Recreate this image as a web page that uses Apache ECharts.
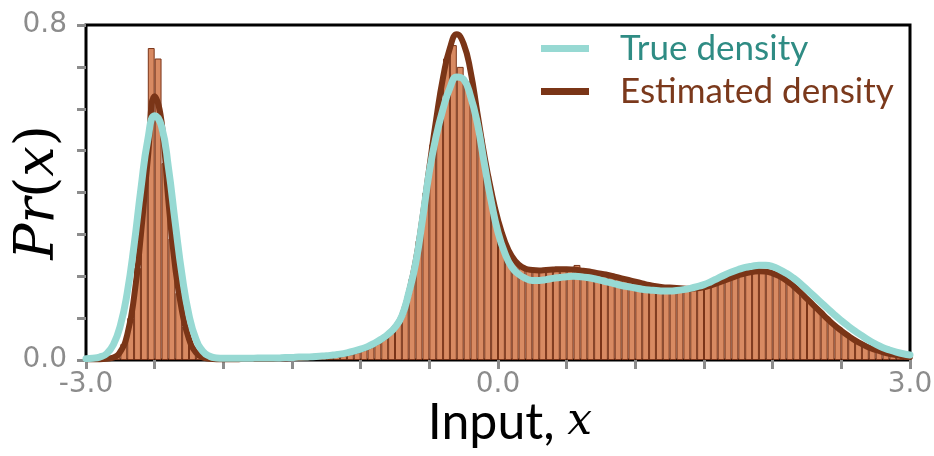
<!DOCTYPE html>
<html>
<head>
<meta charset="utf-8">
<script src="https://cdn.jsdelivr.net/npm/echarts@6/dist/echarts.min.js"></script>
<style>
  html, body { margin: 0; padding: 0; background: #ffffff; }
  #chart { width: 934px; height: 456px; }
</style>
</head>
<body>
<div id="chart"></div>
<script>
// ---- data ----
// sample positions of the two density curves
const curveX = [
  -3.00,-2.95,-2.90,-2.85,-2.80,-2.75,-2.70,-2.65,-2.60,-2.55,
  -2.50,-2.45,-2.40,-2.35,-2.30,-2.25,-2.20,-2.15,-2.10,-2.05,
  -2.00,-1.95,-1.90,-1.85,-1.80,-1.75,-1.70,-1.65,-1.60,-1.55,
  -1.50,-1.45,-1.40,-1.35,-1.30,-1.25,-1.20,-1.15,-1.10,-1.05,
  -1.00,-0.95,-0.90,-0.85,-0.80,-0.75,-0.70,-0.65,-0.60,-0.55,
  -0.50,-0.45,-0.40,-0.35,-0.30,-0.25,-0.20,-0.15,-0.10,-0.05,
   0.00, 0.05, 0.10, 0.15, 0.20, 0.25, 0.30, 0.35, 0.40, 0.45,
   0.50, 0.55, 0.60, 0.65, 0.70, 0.75, 0.80, 0.85, 0.90, 0.95,
   1.00, 1.05, 1.10, 1.15, 1.20, 1.25, 1.30, 1.35, 1.40, 1.45,
   1.50, 1.55, 1.60, 1.65, 1.70, 1.75, 1.80, 1.85, 1.90, 1.95,
   2.00, 2.05, 2.10, 2.15, 2.20, 2.25, 2.30, 2.35, 2.40, 2.45,
   2.50, 2.55, 2.60, 2.65, 2.70, 2.75, 2.80, 2.85, 2.90, 2.95,
   3.00
];
const trueDensity = [
  0.003,0.004,0.007,0.015,0.037,0.082,0.160,0.274,0.409,0.526,
  0.583,0.558,0.460,0.327,0.201,0.107,0.050,0.021,0.009,0.005,
  0.004,0.004,0.004,0.004,0.004,0.005,0.005,0.005,0.005,0.006,
  0.006,0.007,0.007,0.008,0.009,0.010,0.012,0.014,0.017,0.021,
  0.026,0.032,0.040,0.050,0.062,0.078,0.105,0.160,0.230,0.335,
  0.450,0.535,0.600,0.650,0.676,0.670,0.630,0.565,0.470,0.380,
  0.305,0.255,0.222,0.205,0.195,0.190,0.190,0.192,0.195,0.197,
  0.199,0.200,0.199,0.197,0.194,0.190,0.186,0.182,0.178,0.175,
  0.172,0.169,0.167,0.166,0.165,0.165,0.166,0.168,0.171,0.175,
  0.180,0.187,0.195,0.203,0.210,0.216,0.221,0.224,0.226,0.226,
  0.223,0.216,0.207,0.196,0.183,0.168,0.153,0.138,0.123,0.108,
  0.094,0.081,0.069,0.058,0.047,0.038,0.030,0.024,0.019,0.015,
  0.012
];
const estimatedDensity = [
  0.002,0.002,0.002,0.003,0.006,0.020,0.060,0.150,0.300,0.480,
  0.630,0.570,0.380,0.220,0.115,0.050,0.018,0.006,0.003,0.002,
  0.002,0.002,0.002,0.003,0.003,0.003,0.003,0.003,0.004,0.004,
  0.005,0.005,0.006,0.007,0.008,0.009,0.011,0.013,0.016,0.020,
  0.025,0.031,0.039,0.049,0.061,0.078,0.105,0.160,0.235,0.340,
  0.460,0.575,0.675,0.745,0.778,0.755,0.690,0.590,0.490,0.405,
  0.335,0.283,0.248,0.228,0.218,0.215,0.214,0.215,0.216,0.217,
  0.217,0.216,0.214,0.212,0.209,0.206,0.203,0.199,0.195,0.191,
  0.187,0.183,0.179,0.176,0.174,0.173,0.172,0.171,0.170,0.171,
  0.174,0.178,0.184,0.190,0.196,0.202,0.207,0.210,0.212,0.211,
  0.207,0.200,0.190,0.177,0.162,0.146,0.130,0.114,0.098,0.083,
  0.070,0.058,0.047,0.038,0.030,0.024,0.019,0.015,0.012,0.009,
  0.007
];
// histogram: 120 bins of width 0.05 from -3.0 to 3.0
const histHeights = [
  0.000,0.000,0.001,0.004,0.012,0.038,0.100,0.220,0.440,0.745,
  0.720,0.470,0.290,0.160,0.080,0.032,0.011,0.004,0.002,0.001,
  0.002,0.002,0.003,0.002,0.003,0.003,0.003,0.004,0.003,0.004,
  0.005,0.005,0.006,0.007,0.008,0.010,0.012,0.014,0.018,0.022,
  0.028,0.035,0.044,0.055,0.069,0.090,0.130,0.195,0.285,0.400,
  0.515,0.620,0.720,0.752,0.700,0.665,0.620,0.530,0.440,0.365,
  0.305,0.262,0.236,0.222,0.216,0.213,0.214,0.215,0.216,0.216,
  0.215,0.227,0.212,0.210,0.207,0.204,0.200,0.196,0.192,0.188,
  0.184,0.180,0.177,0.174,0.172,0.171,0.170,0.169,0.169,0.171,
  0.175,0.180,0.186,0.192,0.198,0.203,0.207,0.210,0.211,0.208,
  0.203,0.194,0.183,0.169,0.153,0.137,0.121,0.105,0.090,0.076,
  0.063,0.052,0.042,0.033,0.026,0.021,0.016,0.013,0.010,0.008
];
const xTickLabels = ['-3.0', '0.0', '3.0'];
const yTickLabels = ['0.0', '0.8'];
const seriesNames = ['True density', 'Estimated density'];

// ---- chart ----
const TEAL = '#97d9d3';
const BROWN = '#7a3517';
const binNames = histHeights.map((_, i) => 'bin' + i);

const chart = echarts.init(document.getElementById('chart'), null, { renderer: 'canvas' });
chart.setOption({
  animation: false,
  backgroundColor: '#ffffff',
  grid: {
    left: 86, right: 24, top: 25, bottom: 96,
    containLabel: false,
    outerBoundsMode: 'none',
    show: true, borderColor: '#000000', borderWidth: 3, backgroundColor: 'transparent'
  },
  legend: {
    orient: 'vertical',
    left: 541, top: 31,
    padding: 0,
    itemGap: 8,
    itemWidth: 48, itemHeight: 7,
    icon: 'rect',
    itemStyle: { borderWidth: 0 },
    textStyle: { fontFamily: 'Lato', fontSize: 35, padding: [0, 0, 0, 26] },
    data: [
      { name: seriesNames[0], textStyle: { color: '#2f8c84' } },
      { name: seriesNames[1], textStyle: { color: '#7b391c' } }
    ]
  },
  xAxis: [
    {
      type: 'value', min: -3, max: 3, interval: 0.5,
      axisLine: { show: false, onZero: false },
      axisTick: { show: true, length: 9, lineStyle: { color: '#8c8c8c', width: 3 } },
      splitLine: { show: false },
      axisLabel: {
        margin: 11, color: '#8c8c8c', fontFamily: 'DejaVu Sans', fontSize: 28,
        formatter: v => { const s = v.toFixed(1); return xTickLabels.includes(s) ? s : ''; }
      },
      name: '{s|Input, }{i|x}',
      nameLocation: 'middle', nameGap: 38,
      nameMoveOverlap: false,
      nameTextStyle: {
        padding: [0, 0, 0, 24],
        rich: {
          s: { fontFamily: 'Lato', fontSize: 50, color: '#000' },
          i: { fontFamily: 'DejaVu Serif', fontStyle: 'italic', fontSize: 44, color: '#000' }
        }
      }
    },
    {
      type: 'category', data: binNames, show: false, boundaryGap: true
    }
  ],
  yAxis: {
    type: 'value', min: 0, max: 0.8, interval: 0.1,
    axisLine: { show: false, onZero: false },
    axisTick: { show: true, length: 9, lineStyle: { color: '#8c8c8c', width: 3 } },
    splitLine: { show: false },
    axisLabel: {
      margin: 19, color: '#8c8c8c', fontFamily: 'DejaVu Sans', fontSize: 28,
      formatter: v => { const s = v.toFixed(1); return yTickLabels.includes(s) ? s : ''; }
    },
    name: '{i|Pr}{n|(}{i|x}{n|)}',
    nameLocation: 'middle', nameRotate: 90, nameGap: 20,
    nameMoveOverlap: false,
    nameTextStyle: {
      rich: {
        i: { fontFamily: 'DejaVu Serif', fontStyle: 'italic', fontSize: 54, color: '#000' },
        n: { fontFamily: 'DejaVu Serif', fontSize: 54, color: '#000' }
      }
    }
  },
  series: [
    {
      name: 'Histogram',
      type: 'bar',
      xAxisIndex: 1, yAxisIndex: 0,
      barCategoryGap: '0%',
      data: histHeights,
      itemStyle: { color: '#d88a62', borderColor: '#7a3418', borderWidth: 1 },
      silent: true, z: 1
    },
    {
      name: seriesNames[1],
      type: 'line',
      xAxisIndex: 0,
      data: curveX.map((x, i) => [x, estimatedDensity[i]]),
      showSymbol: false, smooth: 0.5,
      color: BROWN,
      itemStyle: { color: BROWN },
      lineStyle: { color: BROWN, width: 6, cap: 'round', join: 'round' },
      silent: true, z: 3
    },
    {
      name: seriesNames[0],
      type: 'line',
      xAxisIndex: 0,
      data: curveX.map((x, i) => [x, trueDensity[i]]),
      showSymbol: false, smooth: 0.5,
      color: TEAL,
      itemStyle: { color: TEAL },
      lineStyle: { color: TEAL, width: 7, cap: 'round', join: 'round' },
      silent: true, z: 4
    }
  ]
});
</script>
</body>
</html>
